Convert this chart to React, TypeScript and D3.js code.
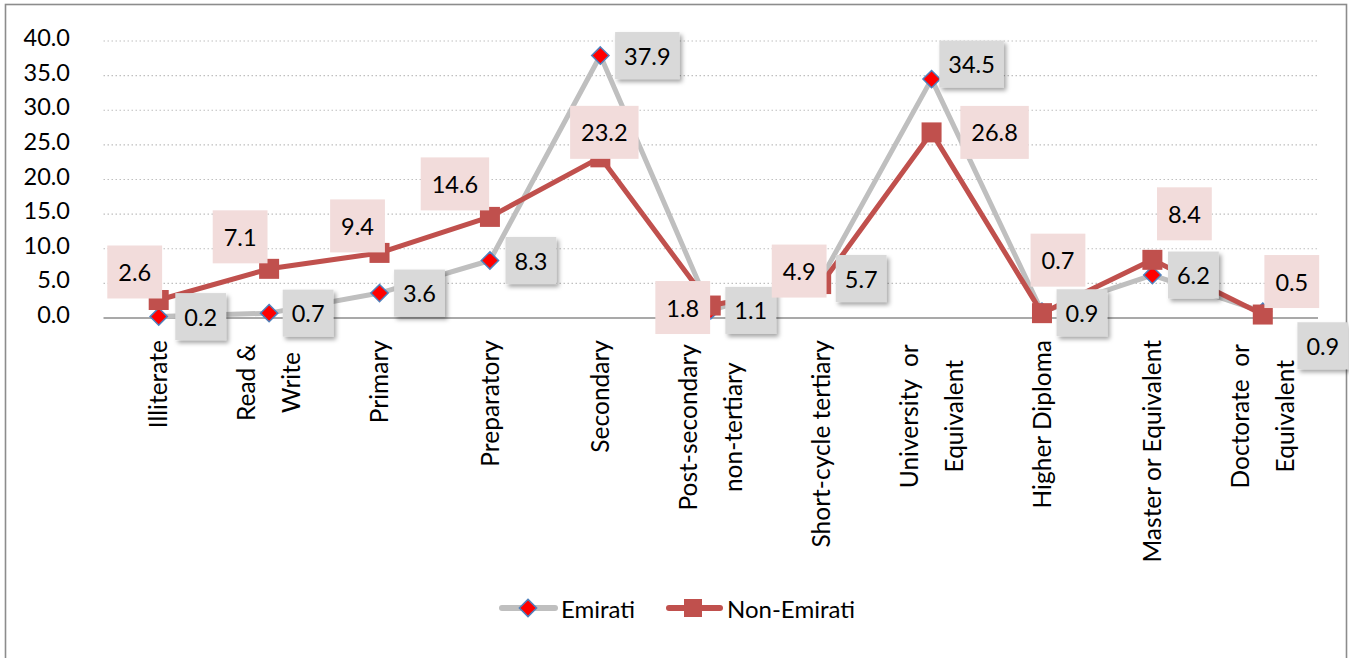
import React from "react";
import * as d3 from "d3";

const categories: string[][] = [
  ["Illiterate"],
  ["Read &", "Write"],
  ["Primary"],
  ["Preparatory"],
  ["Secondary"],
  ["Post-secondary", "non-tertiary"],
  ["Short-cycle tertiary"],
  ["University  or", "Equivalent"],
  ["Higher Diploma"],
  ["Master or Equivalent"],
  ["Doctorate  or", "Equivalent"],
];
const emirati = [0.2, 0.7, 3.6, 8.3, 37.9, 1.1, 5.7, 34.5, 0.9, 6.2, 0.9];
const nonEmirati = [2.6, 7.1, 9.4, 14.6, 23.2, 1.8, 4.9, 26.8, 0.7, 8.4, 0.5];
const yTicks = [0, 5, 10, 15, 20, 25, 30, 35, 40];
const seriesNames = ["Emirati", "Non-Emirati"];

// label centre offsets (px) from each point, as placed in the original
const emiratiLabelOffset: [number, number][] = [
  [42, 0], [39, 0], [40, 0], [41, 0], [47, 0], [40, 0], [40, 0], [40, -15], [40, 1], [41, 0], [60, 34],
];
const nonEmiratiLabelOffset: [number, number][] = [
  [-24, -28], [-29, -32], [-22, -27], [-35, -33], [4, -25], [-28, 2], [-22, -13], [63, 0], [16, -53], [32, -46], [29, -33],
];

const W = 1349;
const H = 658;
const FONT = "Lato, 'Open Sans', sans-serif";
const GRAY = "#bfbfbf";
const RED = "#c0504d";

let ctx: CanvasRenderingContext2D | null = null;
function measure(text: string, size: number): number {
  if (!ctx) ctx = document.createElement("canvas").getContext("2d");
  if (!ctx) return text.length * size * 0.5;
  ctx.font = `${size}px Lato`;
  return ctx.measureText(text).width;
}

export default function App() {
  const x = d3
    .scaleBand<number>()
    .domain(categories.map((_, i) => i))
    .range([103.5, 1318])
    .padding(0);
  const cx = (i: number) => (x(i) as number) + x.bandwidth() / 2;
  const y = d3.scaleLinear().domain([0, 40]).range([318, 41]);

  const line = d3
    .line<number>()
    .x((_, i) => cx(i))
    .y((d) => y(d));

  const diamond = d3.symbol().type(d3.symbolDiamond2).size(190)();
  const labelSize = 23.5;
  const axisSize = 24.5;

  return (
    <svg
      width={W}
      height={H}
      style={{ position: "absolute", left: 0, top: 0, display: "block", background: "#fff" }}
      fontFamily={FONT}
    >
      <defs>
        <filter id="shadow" x="-30%" y="-30%" width="170%" height="170%">
          <feDropShadow dx="2.5" dy="3" stdDeviation="2" floodColor="#000" floodOpacity="0.35" />
        </filter>
      </defs>
      <rect x={5.5} y={4.5} width={1341} height={680} fill="#fff" stroke="#8c8c8c" strokeWidth={1.6} />

      {/* gridlines */}
      {yTicks.map((t) =>
        t === 0 ? null : (
          <line
            key={t}
            x1={103.5}
            x2={1318}
            y1={y(t)}
            y2={y(t)}
            stroke="#bfbfbf"
            strokeWidth={1.2}
            strokeDasharray="1.5 2.5"
          />
        )
      )}
      <line x1={103.5} x2={1318} y1={y(0)} y2={y(0)} stroke="#8c8c8c" strokeWidth={1.5} />

      {/* y tick labels */}
      {yTicks.map((t) => (
        <text
          key={t}
          x={70}
          y={y(t) - 4}
          textAnchor="end"
          dominantBaseline="central"
          fontSize={23.5}
          fill="#000"
        >
          {t.toFixed(1)}
        </text>
      ))}

      {/* x labels */}
      {categories.map((lines, i) => {
        const px = cx(i);
        if (lines.length === 1) {
          return (
            <text
              key={i}
              transform={`translate(${px},340) rotate(-90)`}
              textAnchor="end"
              dy="0.35em"
              fontSize={axisSize}
              style={{ whiteSpace: "pre" }}
            >
              {lines[0]}
            </text>
          );
        }
        const maxLen = Math.max(...lines.map((l) => measure(l, axisSize)));
        const cy = 340 + maxLen / 2 + 4;
        return (
          <g key={i}>
            {lines.map((l, k) => (
              <text
                key={k}
                transform={`translate(${px - 22.5 + k * 45},${cy}) rotate(-90)`}
                textAnchor="middle"
                dy="0.35em"
                fontSize={axisSize}
                style={{ whiteSpace: "pre" }}
              >
                {l}
              </text>
            ))}
          </g>
        );
      })}

      {/* Emirati series */}
      <path
        d={line(emirati) || ""}
        fill="none"
        stroke={GRAY}
        strokeWidth={5}
        strokeLinejoin="round"
        strokeLinecap="round"
      />
      {emirati.map((v, i) => (
        <path
          key={i}
          d={diamond || ""}
          transform={`translate(${cx(i)},${y(v)})`}
          fill="#ff0000"
          stroke="#4f81bd"
          strokeWidth={1.5}
        />
      ))}

      {/* Non-Emirati series */}
      <path
        d={line(nonEmirati) || ""}
        fill="none"
        stroke={RED}
        strokeWidth={5}
        strokeLinejoin="round"
        strokeLinecap="round"
      />
      {nonEmirati.map((v, i) => (
        <rect key={i} x={cx(i) - 10} y={y(v) - 10} width={20} height={20} fill={RED} />
      ))}

      {/* Emirati labels */}
      {emirati.map((v, i) => {
        const t = v.toFixed(1);
        const w = measure(t, labelSize) + 18;
        const h = 47;
        const lx = cx(i) + emiratiLabelOffset[i][0];
        const ly = y(v) + emiratiLabelOffset[i][1];
        return (
          <g key={i}>
            <rect x={lx - w / 2} y={ly - h / 2} width={w} height={h} fill="#d9d9d9" filter="url(#shadow)" />
            <text x={lx} y={ly} textAnchor="middle" dominantBaseline="central" fontSize={labelSize}>
              {t}
            </text>
          </g>
        );
      })}

      {/* Non-Emirati labels */}
      {nonEmirati.map((v, i) => {
        const t = v.toFixed(1);
        const w = measure(t, labelSize) + 22;
        const h = 53;
        const lx = cx(i) + nonEmiratiLabelOffset[i][0];
        const ly = y(v) + nonEmiratiLabelOffset[i][1];
        return (
          <g key={i}>
            <rect x={lx - w / 2} y={ly - h / 2} width={w} height={h} fill="#f2dcdb" />
            <text x={lx} y={ly} textAnchor="middle" dominantBaseline="central" fontSize={labelSize}>
              {t}
            </text>
          </g>
        );
      })}

      {/* legend */}
      <g>
        <line x1={502} x2={555} y1={608} y2={608} stroke={GRAY} strokeWidth={6} strokeLinecap="round" />
        <path d={diamond || ""} transform="translate(528,608)" fill="#ff0000" stroke="#4f81bd" strokeWidth={1.5} />
        <text x={561} y={608} dominantBaseline="central" fontSize={24}>
          {seriesNames[0]}
        </text>
        <line x1={669} x2={720} y1={608} y2={608} stroke={RED} strokeWidth={6} strokeLinecap="round" />
        <rect x={684} y={599} width={18} height={18} fill={RED} />
        <text x={727} y={608} dominantBaseline="central" fontSize={24}>
          {seriesNames[1]}
        </text>
      </g>
    </svg>
  );
}
